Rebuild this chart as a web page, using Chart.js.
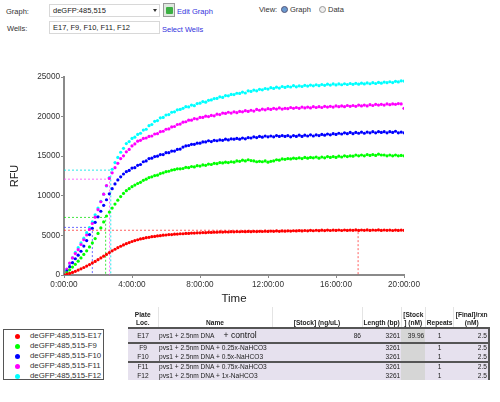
<!DOCTYPE html>
<html>
<head>
<meta charset="utf-8">
<script src="https://cdn.jsdelivr.net/npm/chart.js@4.4.0/dist/chart.umd.min.js"></script>
<style>
  body { margin: 0; width: 500px; height: 402px; background: #fff; position: relative; overflow: hidden; font-family: "Liberation Sans", Arial, sans-serif; color: #333; }
  .abs { position: absolute; white-space: nowrap; }
  .lbl { font-size: 7.5px; color: #333; }
  .box { border: 1px solid #d8d8d8; background: #fff; font-size: 7.5px; color: #222; box-sizing: border-box; padding: 1px 3px; }
  .link { font-size: 7.5px; color: #3333dd; }
  .radio { width: 7px; height: 7px; border-radius: 50%; border: 1px solid #999; background: #eee; box-sizing: border-box; }
  #chartWrap { position: absolute; left: 0; top: 66px; width: 440px; height: 244px; }
  #legend { position: absolute; left: 3px; top: 329px; width: 101px; height: 51px; border: 1px solid #555; box-sizing: border-box; font-size: 7.8px; color: #333; }
  #legend .row { position: absolute; left: 0; height: 10px; line-height: 10px; white-space: nowrap; }
  #legend .dot { position: absolute; left: 11px; top: 2.5px; width: 5px; height: 5px; border-radius: 50%; }
  #legend .txt { position: absolute; left: 26px; top: 0; white-space: nowrap; }
  table { position: absolute; left: 128px; top: 307px; border-collapse: collapse; font-size: 6.6px; color: #222; table-layout: fixed; }
  td, th { padding: 0 1px; overflow: hidden; white-space: nowrap; }
  th { font-weight: bold; height: 20px; vertical-align: bottom; text-align: center; line-height: 8px; border-left: 1px solid #e4e4e4; border-bottom: 2px solid #555; }
  th:first-child { border-left: none; }
  tbody td { background: #e6e1ee; height: 8.5px; line-height: 8.5px; }
  .r { text-align: right; }
  .c { text-align: center; }
  .g { background: #d6d6d6 !important; }
  .sep td { border-top: 2px solid #555; }
  .last { border-right: 2px solid #555; }
</style>
</head>
<body>

<!-- top controls -->
<div class="abs lbl" style="left:6px;top:7px;">Graph:</div>
<div class="abs box" style="left:49px;top:4px;width:111px;height:13px;line-height:10px;">deGFP:485,515</div>
<div class="abs" style="left:153px;top:9px;width:0;height:0;border-left:2.5px solid transparent;border-right:2.5px solid transparent;border-top:3px solid #333;"></div>
<div class="abs" style="left:163px;top:3px;width:12px;height:14px;border:1px solid #999;background:#dfe9df;box-sizing:border-box;"></div>
<div class="abs" style="left:166px;top:7px;width:7px;height:7px;background:#3cb043;border-radius:1px;"></div>
<div class="abs link" style="left:177px;top:7px;">Edit Graph</div>
<div class="abs lbl" style="left:259px;top:5px;">View:</div>
<div class="abs radio" style="left:281px;top:6px;background:#6a9ad0;border-color:#557;"></div>
<div class="abs lbl" style="left:290px;top:5px;">Graph</div>
<div class="abs radio" style="left:319px;top:6px;"></div>
<div class="abs lbl" style="left:328px;top:5px;">Data</div>
<div class="abs lbl" style="left:7px;top:24px;">Wells:</div>
<div class="abs box" style="left:49px;top:21px;width:111px;height:13px;line-height:10px;">E17, F9, F10, F11, F12</div>
<div class="abs link" style="left:162px;top:25px;">Select Wells</div>

<div id="chartWrap"><canvas id="c"></canvas></div>

<div id="legend"></div>

<table>
  <colgroup>
    <col style="width:30px"><col style="width:114px"><col style="width:90px"><col style="width:38px"><col style="width:24px"><col style="width:28px"><col style="width:35px">
  </colgroup>
  <thead>
    <tr>
      <th>Plate<br>Loc.</th><th>Name</th><th>[Stock] (ng/uL)</th><th>Length (bp)</th><th>[Stock<br>] (nM)</th><th>Repeats</th><th>[Final]/rxn<br>(nM)</th>
    </tr>
  </thead>
  <tbody id="tbody"></tbody>
</table>

<script>
// sampling times (minutes)
const times = [
  0, 10, 20, 30, 40, 50, 60, 70, 80, 90, 100, 110,
  120, 130, 140, 150, 160, 170, 180, 190, 200, 210, 220, 230,
  240, 250, 260, 270, 280, 290, 300, 310, 320, 330, 340, 350,
  360, 370, 380, 390, 400, 410, 420, 430, 440, 450, 460, 470,
  480, 490, 500, 510, 520, 530, 540, 550, 560, 570, 580, 590,
  600, 610, 620, 630, 640, 650, 660, 670, 680, 690, 700, 710,
  720, 730, 740, 750, 760, 770, 780, 790, 800, 810, 820, 830,
  840, 850, 860, 870, 880, 890, 900, 910, 920, 930, 940, 950,
  960, 970, 980, 990, 1000, 1010, 1020, 1030, 1040, 1050, 1060, 1070,
  1080, 1090, 1100, 1110, 1120, 1130, 1140, 1150, 1160, 1170, 1180, 1190,
  1200
];

const wellNames = ['deGFP:485,515-E17', 'deGFP:485,515-F9', 'deGFP:485,515-F10', 'deGFP:485,515-F11', 'deGFP:485,515-F12'];
const wellColors = ['#ff0000', '#00ff00', '#0000ff', '#ff00ff', '#00ffff'];

const rfuE17 = [
  0, 100, 200, 330, 470, 620, 780, 950, 1130, 1320, 1520, 1720,
  1930, 2150, 2380, 2600, 2830, 3050, 3250, 3450, 3630, 3800, 3950, 4100,
  4230, 4350, 4450, 4560, 4620, 4710, 4760, 4840, 4870, 4940, 4970, 5030,
  5050, 5100, 5110, 5160, 5170, 5210, 5210, 5250, 5250, 5290, 5290, 5330,
  5320, 5360, 5350, 5390, 5380, 5410, 5400, 5440, 5420, 5450, 5430, 5470,
  5450, 5480, 5460, 5490, 5470, 5500, 5470, 5510, 5480, 5520, 5490, 5530,
  5500, 5540, 5510, 5560, 5520, 5570, 5530, 5580, 5550, 5590, 5560, 5610,
  5570, 5620, 5580, 5640, 5590, 5650, 5600, 5660, 5610, 5670, 5620, 5670,
  5630, 5680, 5620, 5680, 5630, 5670, 5640, 5690, 5630, 5680, 5640, 5690,
  5630, 5680, 5650, 5690, 5630, 5680, 5640, 5670, 5620, 5670, 5630, 5670,
  5640
];

const rfuF9 = [
  0, 300, 650, 1000, 1350, 1750, 2150, 2600, 3050, 3550, 4050, 4600,
  5250, 5950, 6700, 7450, 7950, 8450, 8950, 9450, 9900, 10300, 10650, 10900,
  11150, 11350, 11550, 11700, 11950, 12100, 12300, 12400, 12550, 12600, 12800, 12900,
  13050, 13100, 13250, 13300, 13400, 13400, 13450, 13600, 13550, 13700, 13650, 13800,
  13750, 13900, 13850, 14000, 13950, 14100, 14050, 14200, 14150, 14250, 14200, 14300,
  14250, 14400, 14350, 14500, 14400, 14550, 14450, 14400, 14300, 14350, 14300, 14400,
  14250, 14350, 14400, 14550, 14500, 14650, 14600, 14700, 14650, 14750, 14700, 14800,
  14700, 14850, 14750, 14850, 14800, 14900, 14750, 14900, 14800, 14950, 14850, 14950,
  14850, 15000, 14900, 15050, 14950, 15050, 15000, 15150, 15050, 15150, 15050, 15200,
  15100, 15200, 15100, 15250, 15150, 15150, 15050, 15150, 15050, 15150, 15050, 15100,
  15050
];

const rfuF10 = [
  0, 500, 1050, 1550, 2050, 2500, 3000, 3650, 4350, 5100, 5900, 6650,
  7350, 8050, 8800, 9500, 10250, 10900, 11500, 12000, 12400, 12750, 13050, 13200,
  13500, 13550, 13850, 13950, 14300, 14400, 14700, 14750, 14950, 15000, 15200, 15200,
  15450, 15450, 15650, 15650, 15850, 15900, 16150, 16300, 16350, 16500, 16500, 16650,
  16650, 16800, 16800, 16950, 16850, 17000, 16950, 17050, 17000, 17150, 17050, 17200,
  17150, 17250, 17150, 17300, 17200, 17350, 17300, 17450, 17350, 17500, 17400, 17550,
  17450, 17550, 17450, 17600, 17500, 17600, 17500, 17600, 17450, 17600, 17500, 17650,
  17500, 17650, 17550, 17700, 17550, 17700, 17600, 17750, 17650, 17800, 17700, 17850,
  17750, 17900, 17800, 17950, 17850, 18000, 17850, 18000, 17900, 18050, 17900, 18050,
  17950, 18100, 17950, 18100, 18000, 18100, 17950, 18100, 18000, 18150, 17950, 18050,
  17950
];

const rfuF11 = [
  0, 750, 1500, 2150, 2700, 3200, 3850, 4450, 5050, 5750, 6500, 7300,
  8250, 9250, 10200, 11300, 12200, 12900, 13550, 14100, 14700, 15050, 15550, 15850,
  16300, 16550, 16900, 17000, 17250, 17300, 17500, 17550, 17800, 17850, 18100, 18150,
  18400, 18450, 18700, 18750, 19000, 19050, 19300, 19350, 19550, 19550, 19750, 19700,
  19900, 19900, 20050, 20000, 20150, 20100, 20300, 20250, 20450, 20400, 20550, 20450,
  20600, 20500, 20650, 20600, 20750, 20650, 20800, 20700, 20900, 20800, 20950, 20850,
  21000, 20900, 21050, 20950, 21100, 20950, 21050, 21000, 21150, 21050, 21150, 21050,
  21200, 21100, 21200, 21100, 21250, 21150, 21250, 21150, 21300, 21200, 21300, 21200,
  21350, 21250, 21350, 21250, 21400, 21300, 21400, 21300, 21450, 21350, 21450, 21350,
  21500, 21400, 21550, 21450, 21550, 21450, 21600, 21500, 21600, 21550, 21650, 21600,
  21050
];

const rfuF12 = [
  0, 700, 1450, 2150, 2850, 3450, 4050, 4650, 5350, 6000, 6700, 7600,
  8450, 9300, 10200, 11250, 12300, 13350, 14200, 14850, 15500, 16000, 16600, 16850,
  17250, 17400, 17750, 17900, 18300, 18400, 18850, 19000, 19400, 19500, 19850, 19900,
  20200, 20250, 20550, 20600, 20850, 20900, 21050, 21250, 21220, 21450, 21380, 21650,
  21700, 21900, 21820, 22050, 22100, 22280, 22300, 22500, 22420, 22650, 22620, 22800,
  22780, 22950, 22920, 23100, 22980, 23250, 23180, 23350, 23260, 23450, 23380, 23550,
  23480, 23650, 23560, 23720, 23600, 23800, 23680, 23820, 23740, 23900, 23760, 23880,
  23800, 23950, 23850, 23980, 23880, 24020, 23900, 24050, 23950, 24100, 23980, 24120,
  24000, 24130, 24020, 24150, 24050, 24180, 24080, 24200, 24100, 24220, 24120, 24250,
  24150, 24280, 24180, 24320, 24220, 24360, 24280, 24400, 24300, 24450, 24380, 24520,
  24480
];

const rfuSeries = [rfuE17, rfuF9, rfuF10, rfuF11, rfuF12];

// dotted marker lines: time (min) and RFU level for each well
const markTimes = [1038, 147, 100, 161, 165];
const markLevels = [5650, 7270, 6010, 12100, 13240];
const markColors = ['rgba(255,40,40,0.75)', 'rgba(0,220,0,0.75)', 'rgba(60,60,255,0.75)', 'rgba(255,60,255,0.75)', 'rgba(0,230,230,0.85)'];

const yTicks = [0, 5000, 10000, 15000, 20000, 25000];

// table rows
const plateLocs = ['E17', 'F9', 'F10', 'F11', 'F12'];
const sampleNames = ['pvs1 + 2.5nm DNA', 'pvs1 + 2.5nm DNA + 0.25x-NaHCO3', 'pvs1 + 2.5nm DNA + 0.5x-NaHCO3', 'pvs1 + 2.5nm DNA + 0.75x-NaHCO3', 'pvs1 + 2.5nm DNA + 1x-NaHCO3'];
const stockNg = ['86', '', '', '', ''];
const lengthBp = ['3261', '3261', '3261', '3261', '3261'];
const stockNm = ['39.96', '', '', '', ''];
const repeats = ['1', '1', '1', '1', '1'];
const finalNm = ['2.5', '2.5', '2.5', '2.5', '2.5'];

// legend
const legend = document.getElementById('legend');
legend.innerHTML = wellNames.map((n, i) => `
  <div class="row" style="top:${1 + i * 10}px;">
    <span class="dot" style="background:${wellColors[i]};"></span>
    <span class="txt">${n}</span>
  </div>`).join('');

// table
document.getElementById('tbody').innerHTML = plateLocs.map((loc, i) => {
  const sep = (i === 1 || i === 3) ? ' class="sep"' : '';
  const extra = i === 0 ? '<span style="font-size:8.6px;color:#111;margin-left:9px;">+ control</span>' : '';
  const h = i === 0 ? 'height:12px;line-height:12px;' : '';
  return `<tr${sep}>
    <td class="c" style="${h}">${loc}</td>
    <td style="${h}">${sampleNames[i]}${extra}</td>
    <td class="r" style="${h}">${stockNg[i]}</td>
    <td class="r" style="${h}">${lengthBp[i]}</td>
    <td class="r g" style="${h}">${stockNm[i]}</td>
    <td class="c" style="${h}">${repeats[i]}</td>
    <td class="r last" style="${h}">${finalNm[i]}</td>
  </tr>`;
}).join('');

const pointSets = rfuSeries.map((vals, i) => ({
  label: wellNames[i],
  data: times.map((t, k) => ({ x: t, y: vals[k] })),
  backgroundColor: wellColors[i],
  borderColor: wellColors[i],
  pointRadius: 1.6,
  pointBorderWidth: 0,
  showLine: false,
  order: 0
}));

const markSets = markTimes.map((t, i) => ({
  label: 'mark' + i,
  data: [{ x: 0, y: markLevels[i] }, { x: t, y: markLevels[i] }, { x: t, y: 0 }],
  borderColor: markColors[i],
  borderWidth: 1,
  borderDash: [2, 2],
  pointRadius: 0,
  showLine: true,
  fill: false,
  order: 1
}));

const axisGray = '#8a8a8a';

new Chart(document.getElementById('c').getContext('2d'), {
  type: 'scatter',
  data: { datasets: [...pointSets, ...markSets] },
  options: {
    responsive: true,
    maintainAspectRatio: false,
    animation: false,
    layout: { padding: { top: 11, right: 36, bottom: 0, left: 0 } },
    plugins: { legend: { display: false }, tooltip: { enabled: false } },
    scales: {
      x: {
        type: 'linear',
        min: 0,
        max: 1200,
        afterFit: s => { s.height = 35; },
        border: { color: axisGray, width: 2 },
        grid: { display: true, drawOnChartArea: false, drawTicks: true, tickLength: 3, color: axisGray },
        ticks: {
          stepSize: 240,
          padding: 2,
          color: '#333',
          font: { family: 'Liberation Sans', size: 8.2 },
          maxRotation: 0,
          callback: v => (v / 60) + ':00:00'
        },
        title: { display: true, text: 'Time', color: '#222', font: { family: 'Liberation Sans', size: 11.5 }, padding: { top: 0, bottom: 4 } }
      },
      y: {
        min: 0,
        max: 25000,
        afterFit: s => { s.width = 64; },
        afterBuildTicks: s => { s.ticks = yTicks.map(v => ({ value: v })); },
        border: { color: axisGray, width: 2 },
        grid: { display: true, drawOnChartArea: false, drawTicks: true, tickLength: 3, color: axisGray },
        ticks: {
          padding: 1,
          color: '#333',
          font: { family: 'Liberation Sans', size: 8.2 },
          callback: v => String(v)
        },
        title: { display: true, text: 'RFU', color: '#222', font: { family: 'Liberation Sans', size: 11 }, padding: 8 }
      }
    }
  }
});
</script>
</body>
</html>
